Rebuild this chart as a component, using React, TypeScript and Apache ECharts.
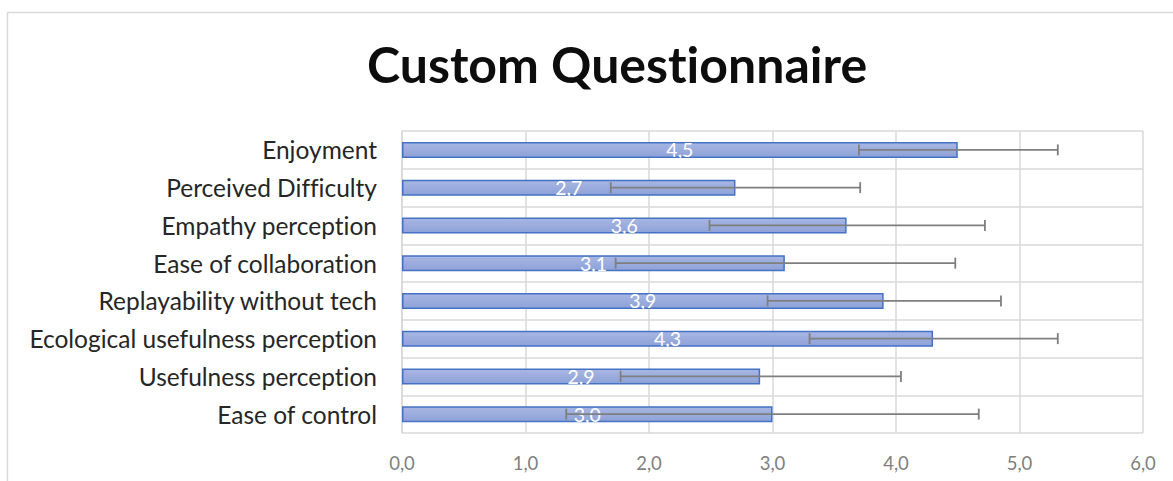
import React, { useEffect, useRef } from "react";
import * as echarts from "echarts";

const categories = [
  "Enjoyment",
  "Perceived Difficulty",
  "Empathy perception",
  "Ease of collaboration",
  "Replayability without tech",
  "Ecological usefulness perception",
  "Usefulness perception",
  "Ease of control",
];
const means = [4.5, 2.7, 3.6, 3.1, 3.9, 4.3, 2.9, 3.0];
const errLow = [3.7, 1.69, 2.49, 1.73, 2.96, 3.3, 1.77, 1.33];
const errHigh = [5.31, 3.71, 4.72, 4.48, 4.85, 5.31, 4.04, 4.67];

const fmt = (v: number) => v.toFixed(1).replace(".", ",");
const FONT = "Lato";

export default function App() {
  const ref = useRef<HTMLDivElement>(null);
  useEffect(() => {
    if (!ref.current) return;
    const chart = echarts.init(ref.current, null, { renderer: "svg" });
    const errData = categories.map((_, i) => [i, errLow[i], errHigh[i]]);
    chart.setOption({
      animation: false,
      backgroundColor: "#ffffff",
      title: {
        text: "Custom Questionnaire",
        left: 362,
        top: 34,
        textStyle: {
          fontFamily: FONT,
          fontWeight: "bold",
          fontSize: 50,
          color: "#0d0d0d",
        },
      },
      graphic: [
        {
          type: "rect",
          shape: { x: 7.5, y: 12.5, width: 1300, height: 600 },
          style: { fill: "none", stroke: "#d9d9d9", lineWidth: 1.5 },
          silent: true,
        },
      ],
      grid: { left: 402, right: 30, top: 131, bottom: 48, containLabel: false },
      xAxis: {
        type: "value",
        min: 0,
        max: 6,
        interval: 1,
        axisLine: { show: false },
        axisTick: { show: false },
        splitLine: { show: true, lineStyle: { color: "#d9d9d9", width: 1.5 } },
        axisLabel: {
          formatter: (v: number) => fmt(v),
          color: "#7f7f7f",
          fontFamily: FONT,
          fontSize: 18.5,
          margin: 20,
        },
      },
      yAxis: {
        type: "category",
        data: categories,
        inverse: true,
        axisLine: { show: true, lineStyle: { color: "#d9d9d9", width: 1.5 } },
        axisTick: { show: false },
        splitLine: { show: true, lineStyle: { color: "#d9d9d9", width: 1.5 } },
        axisLabel: {
          color: "#262626",
          fontFamily: FONT,
          fontSize: 24.5,
          margin: 25,
        },
      },
      series: [
        {
          type: "bar",
          data: means,
          barWidth: 16,
          itemStyle: {
            color: new echarts.graphic.LinearGradient(0, 0, 0, 1, [
              { offset: 0, color: "#a8b7e3" },
              { offset: 1, color: "#8ea2d8" },
            ]),
            borderColor: "#4472c4",
            borderWidth: 1.5,
          },
          label: {
            show: true,
            position: "inside",
            color: "#ffffff",
            fontFamily: FONT,
            fontSize: 19.5,
            formatter: (p: any) => fmt(p.value),
          },
          z: 2,
        },
        {
          type: "custom",
          data: errData,
          z: 3,
          renderItem: (params: any, api: any) => {
            const idx = api.value(0);
            const lo = api.coord([api.value(1), idx]);
            const hi = api.coord([api.value(2), idx]);
            const cap = 5.5;
            const style = { stroke: "#7f7f7f", lineWidth: 1.8, fill: "none" };
            return {
              type: "group",
              children: [
                { type: "line", shape: { x1: lo[0], y1: lo[1], x2: hi[0], y2: hi[1] }, style },
                { type: "line", shape: { x1: lo[0], y1: lo[1] - cap, x2: lo[0], y2: lo[1] + cap }, style },
                { type: "line", shape: { x1: hi[0], y1: hi[1] - cap, x2: hi[0], y2: hi[1] + cap }, style },
              ],
            };
          },
        },
      ],
    });
    return () => chart.dispose();
  }, []);
  return (
    <>
      <style>{"text{font-variant-ligatures:none !important;font-feature-settings:'liga' 0,'clig' 0 !important;}"}</style>
      <div
        ref={ref}
        style={{ position: "fixed", left: 0, top: 0, width: 1173, height: 481 }}
      />
    </>
  );
}
